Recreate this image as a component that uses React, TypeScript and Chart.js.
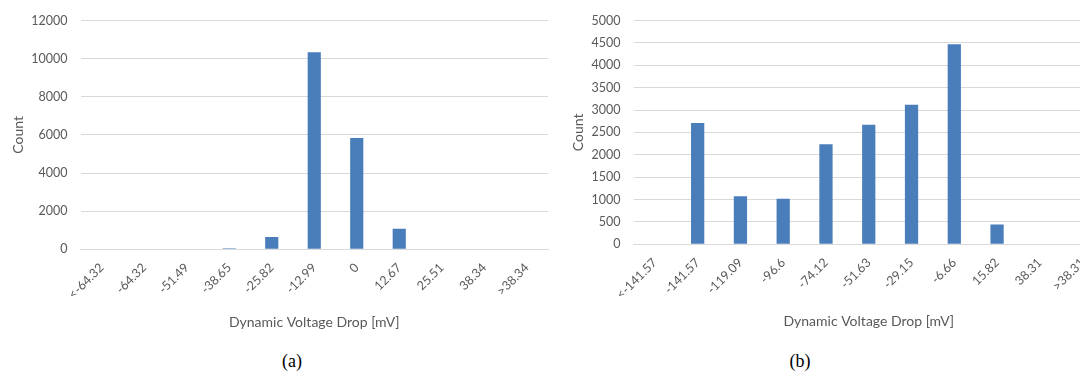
import React, { useEffect, useRef } from "react";
import { Chart, registerables } from "chart.js";

Chart.register(...registerables);

// Histogram (a): bin labels and counts
const binsA = ["<-64.32", "-64.32", "-51.49", "-38.65", "-25.82", "-12.99", "0", "12.67", "25.51", "38.34", ">38.34"];
const countsA = [0, 0, 0, 60, 650, 10330, 5840, 1080, 0, 0, 0];
const yMaxA = 12000;
const yStepA = 2000;

// Histogram (b): bin labels and counts
const binsB = ["<-141.57", "-141.57", "-119.09", "-96.6", "-74.12", "-51.63", "-29.15", "-6.66", "15.82", "38.31", ">38.31"];
const countsB = [0, 2710, 1075, 1015, 2235, 2670, 3120, 4470, 440, 0, 0];
const yMaxB = 5000;
const yStepB = 500;

const xTitle = "Dynamic Voltage Drop [mV]";
const yTitle = "Count";
const captions = ["(a)", "(b)"];

const BAR = "#4a7ebb";
const GRID = "#d9d9d9";
const TEXT = "#595959";
const FAMILY = "Lato, 'Open Sans', sans-serif";

type HistProps = {
  labels: string[];
  values: number[];
  yMax: number;
  yStep: number;
  width: number;
  height: number;
  plotLeft: number;
  plotTop: number;
  plotBottom: number;
  padRight: number;
  xTitlePad: number;
  yTitlePad: number;
};

function Histogram(p: HistProps) {
  const ref = useRef<HTMLCanvasElement>(null);

  useEffect(() => {
    const chart = new Chart(ref.current as HTMLCanvasElement, {
      type: "bar",
      data: {
        labels: p.labels,
        datasets: [
          {
            data: p.values,
            backgroundColor: BAR,
            borderWidth: 0,
            barPercentage: 0.31,
            categoryPercentage: 1,
          },
        ],
      },
      options: {
        animation: false,
        responsive: false,
        events: [],
        layout: { padding: { top: p.plotTop, right: p.padRight, left: 0, bottom: 0 } },
        plugins: { legend: { display: false }, tooltip: { enabled: false } },
        scales: {
          x: {
            grid: { display: false, drawTicks: false },
            border: { display: true, color: GRID, width: 1 },
            ticks: {
              color: TEXT,
              font: { family: FAMILY, size: 12.5 },
              minRotation: 45,
              maxRotation: 45,
              autoSkip: false,
              padding: 11,
            },
            title: {
              display: true,
              text: xTitle,
              color: TEXT,
              font: { family: FAMILY, size: 14 },
              padding: { top: 0, bottom: p.xTitlePad },
            },
            afterFit: (s: any) => {
              s.height = p.height - p.plotBottom;
            },
          },
          y: {
            min: 0,
            max: p.yMax,
            grid: { color: GRID, lineWidth: 1, drawTicks: false },
            border: { display: false },
            ticks: {
              stepSize: p.yStep,
              color: TEXT,
              font: { family: FAMILY, size: 12.5 },
              padding: 13,
              callback: (v: any) => String(v),
            },
            title: {
              display: true,
              text: yTitle,
              color: TEXT,
              font: { family: FAMILY, size: 14 },
              padding: { top: p.yTitlePad, bottom: 0 },
            },
            afterFit: (s: any) => {
              s.width = p.plotLeft;
            },
          },
        },
      },
    } as any);
    return () => chart.destroy();
  }, []);

  return (
    <canvas
      ref={ref}
      width={p.width}
      height={p.height}
      style={{ width: p.width, height: p.height, display: "block" }}
    />
  );
}

const captionStyle: React.CSSProperties = {
  position: "absolute",
  top: 350,
  width: 60,
  textAlign: "center",
  fontFamily: "'Liberation Serif', 'DejaVu Serif', serif",
  fontSize: 18,
  lineHeight: "22px",
  color: "#000",
};

export default function App() {
  return (
    <div
      style={{
        position: "fixed",
        left: 0,
        top: 0,
        width: 1080,
        height: 376,
        overflow: "hidden",
        background: "#fff",
      }}
    >
      <div style={{ position: "absolute", left: 0, top: 0 }}>
        <Histogram
          labels={binsA}
          values={countsA}
          yMax={yMaxA}
          yStep={yStepA}
          width={560}
          height={340}
          plotLeft={80.5}
          plotTop={15.8}
          plotBottom={249.3}
          padRight={12}
          xTitlePad={9}
          yTitlePad={9.6}
        />
      </div>
      <div style={{ position: "absolute", left: 560, top: 0 }}>
        <Histogram
          labels={binsB}
          values={countsB}
          yMax={yMaxB}
          yStep={yStepB}
          width={560}
          height={340}
          plotLeft={73.5}
          plotTop={14.7}
          plotBottom={244.3}
          padRight={16}
          xTitlePad={10}
          yTitlePad={9.6}
        />
      </div>
      <div style={{ ...captionStyle, left: 292 - 30 }}>{captions[0]}</div>
      <div style={{ ...captionStyle, left: 800 - 30 }}>{captions[1]}</div>
    </div>
  );
}
